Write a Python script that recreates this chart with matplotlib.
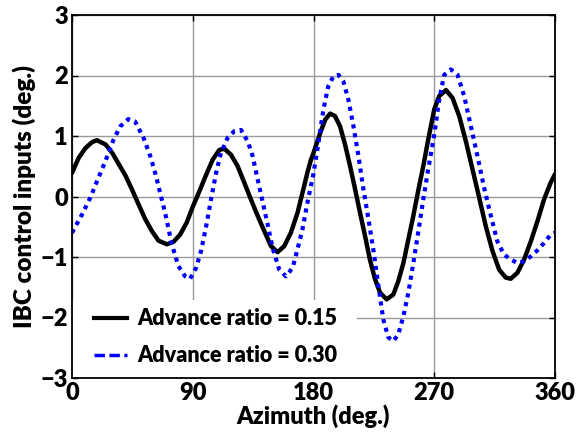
import matplotlib
matplotlib.use("Agg")
import matplotlib.pyplot as plt
from matplotlib.lines import Line2D

# Advance ratio = 0.15 (black solid)
az_015 = [0, 5, 10, 15, 18.6, 25, 30, 35, 40, 44.6, 49.6, 54.5, 59.5, 64.5, 70.7,
          75.6, 80.6, 85.5, 90, 95, 100, 104.9, 109.8, 113.6, 118.5, 123.5, 128.4,
          133.4, 138.4, 143.3, 148.3, 153.2, 158.2, 163.1, 168.1, 173, 175.5, 178,
          180, 185, 188.7, 192.4, 196, 199.8, 203.5, 207.3, 211, 214.7, 218.4, 222,
          225.9, 229.6, 234.5, 239.5, 243.2, 247, 250.7, 254.4, 258, 261.8, 265.5,
          270, 273.7, 278.7, 283.6, 288.6, 293.6, 298.5, 303.5, 308.4, 313.4, 318.4,
          323.3, 327, 332, 337, 342, 346.9, 351.8, 356.8, 360]
ibc_015 = [0.39, 0.64, 0.80, 0.90, 0.93, 0.86, 0.72, 0.53, 0.34, 0.12, -0.13, -0.37,
           -0.57, -0.73, -0.79, -0.75, -0.63, -0.43, -0.17, 0.09, 0.36, 0.61, 0.77,
           0.79, 0.69, 0.50, 0.23, -0.05, -0.32, -0.57, -0.82, -0.92, -0.82, -0.60,
           -0.27, 0.17, 0.40, 0.60, 0.72, 1.05, 1.27, 1.37, 1.33, 1.16, 0.86, 0.50,
           0.12, -0.27, -0.65, -1.04, -1.37, -1.59, -1.70, -1.62, -1.40, -1.10, -0.71,
           -0.32, 0.09, 0.50, 0.94, 1.44, 1.66, 1.76, 1.63, 1.33, 0.91, 0.45, -0.02,
           -0.49, -0.90, -1.21, -1.34, -1.36, -1.26, -1.04, -0.74, -0.41, -0.05, 0.23,
           0.37]

# Advance ratio = 0.30 (blue dotted)
az_030 = [0, 7.4, 13.6, 18.6, 24.8, 31, 36, 42, 47, 53.3, 58.3, 62, 65.7, 69.4, 74.4,
          79.3, 84.3, 88, 92.5, 96.2, 100, 103.6, 107.4, 111, 116, 121, 126, 131,
          134.6, 138.4, 142, 145.8, 149.5, 154.5, 159.4, 164.4, 168, 171.8, 175.5,
          180, 183.7, 187.4, 191, 194.9, 198.6, 202.3, 206, 209.8, 213.5, 217.2, 221,
          224.6, 228.4, 232, 235.8, 239.5, 243.2, 247, 250.7, 254.4, 258, 261.8,
          265.5, 270, 273.7, 277.4, 282.4, 287.4, 292.3, 297.3, 302.2, 307.2, 312.2,
          317, 322, 327, 332, 337, 342, 346.9, 351.8, 356.8, 360]
ibc_030 = [-0.60, -0.30, -0.02, 0.25, 0.58, 0.94, 1.16, 1.28, 1.24, 0.97, 0.67, 0.39,
           0.06, -0.27, -0.79, -1.15, -1.32, -1.36, -1.18, -0.90, -0.49, -0.05, 0.39,
           0.72, 0.97, 1.08, 1.10, 0.91, 0.67, 0.28, -0.08, -0.46, -0.85, -1.21,
           -1.32, -1.18, -0.88, -0.54, -0.10, 0.38, 0.89, 1.44, 1.82, 1.99, 2.01,
           1.90, 1.60, 1.16, 0.67, 0.12, -0.38, -0.88, -1.48, -2.03, -2.33, -2.39,
           -2.28, -1.98, -1.59, -1.10, -0.60, -0.05, 0.45, 1.02, 1.60, 2.01, 2.10,
           2.01, 1.66, 1.16, 0.67, 0.14, -0.32, -0.74, -0.96, -1.04, -1.10, -1.07,
           -0.99, -0.89, -0.77, -0.63, -0.60]

x_ticks = [0, 90, 180, 270, 360]
y_ticks = [-3, -2, -1, 0, 1, 2, 3]
labels = ["Advance ratio = 0.15", "Advance ratio = 0.30"]

FONT = "Lato"
WEIGHT = "heavy"

fig = plt.figure(figsize=(5.79, 4.38), dpi=100)
ax = fig.add_axes([72/579, 1-378/438, (555-72)/579, (378-15)/438])

ax.plot(az_015, ibc_015, color="black", lw=3.2, solid_capstyle="round",
        solid_joinstyle="round", zorder=3)
ax.plot(az_030, ibc_030, color="#0000ff", lw=3.0, linestyle=(0, (1, 1.15)),
        dash_capstyle="butt", zorder=3)

ax.set_xlim(0, 360)
ax.set_ylim(-3, 3)
ax.set_xticks(x_ticks)
ax.set_yticks(y_ticks)
ax.grid(True, color="#9a9a9a", lw=1.0, zorder=1)
ax.set_axisbelow(True)
ax.tick_params(direction="in", length=4, width=1, top=True, right=True,
               labelsize=17, pad=3)
for lab in ax.get_xticklabels() + ax.get_yticklabels():
    lab.set_fontfamily(FONT)
    lab.set_fontweight(WEIGHT)
for sp in ax.spines.values():
    sp.set_linewidth(1.3)
    sp.set_zorder(6)

ax.set_xlabel("Azimuth (deg.)", fontfamily=FONT, fontweight=WEIGHT,
              fontsize=17, labelpad=0)
ax.set_ylabel("IBC control inputs (deg.)", fontfamily=FONT, fontweight=WEIGHT,
              fontsize=17.5, labelpad=3)

# legend background box spanning from the left spine
ax.add_patch(plt.Rectangle((0, 0), 0.59, 0.215, transform=ax.transAxes,
                           facecolor="white", edgecolor="none", zorder=4))

handles = [Line2D([], [], color="black", lw=3.0),
           Line2D([], [], color="#0000ff", lw=2.5, linestyle=(0, (3, 1.3)))]
leg = ax.legend(handles, labels, loc="lower left", bbox_to_anchor=(0.021, 0),
                borderaxespad=0.1, frameon=False,
                prop={"family": FONT, "weight": WEIGHT, "size": 15.5},
                handlelength=1.55, handletextpad=0.45, labelspacing=0.73,
                borderpad=0.45)
leg.set_zorder(5)

fig.savefig("out.png", dpi=100)
